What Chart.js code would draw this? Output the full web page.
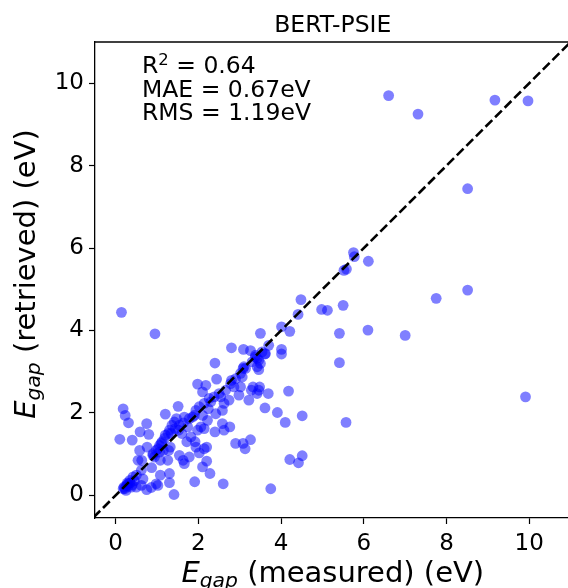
<!DOCTYPE html>
<html>
<head>
<meta charset="utf-8">
<script src="https://cdn.jsdelivr.net/npm/chart.js@4.4.0/dist/chart.umd.min.js"></script>
<style>
    html, body { margin: 0; padding: 0; overflow: hidden; background: #fff; }
    #wrap { width: 576px; height: 588px; position: relative; }
</style>
</head>
<body>
<div id="wrap"><canvas id="chart"></canvas></div>
<script>
// Measured vs retrieved band gaps (eV)
const measured = [
    6.6, 7.31, 9.17, 9.97, 8.51, 5.75, 5.77, 6.11, 5.58, 5.52, 5.5, 5.12, 4.98, 5.41, 6.1, 7.0, 7.75, 8.51, 5.41, 5.57, 9.91,
    4.41, 4.48, 4.01, 4.21, 4.01, 4.01, 4.51, 4.21, 4.42, 4.51, 4.1, 4.18, 3.91, 3.61, 3.69, 3.75, 3.5, 3.7, 3.62, 3.5,
    3.42, 3.42, 3.38, 3.48, 3.42, 3.32, 3.28, 3.22, 3.26, 3.09, 3.08, 3.06, 3.02, 3.26, 3.13, 3.08, 2.9, 2.8, 2.8, 2.76,
    2.62, 2.58, 2.4, 2.42, 2.58, 2.62, 2.54, 2.74, 2.44, 2.4, 2.18, 1.98, 2.1, 2.6, 1.91, 1.41, 2.28, 2.1, 2.2, 2.02,
    1.94, 1.92, 2.14, 2.2, 1.98, 2.06, 2.14, 2.22, 1.86, 2.02, 2.1, 2.24, 2.3, 3.46, 3.46, 3.1, 2.86, 3.46, 2.98,
    0.9, 1.02, 1.1, 1.18, 1.34, 1.44, 1.54, 1.64, 1.78, 1.9, 1.94, 2.14, 2.26, 2.38, 2.5, 2.66, 2.78, 2.9, 3.02, 3.14,
    3.3, 3.38, 3.54, 3.61,
    0.14, 0.95, 0.18, 0.23, 0.31, 0.1, 0.4, 0.59, 0.75, 0.8, 0.58, 0.76, 0.54, 0.63, 0.87, 1.08, 0.98, 0.75, 0.86, 1.02,
    1.3, 1.3, 0.22, 0.3, 0.38, 0.5, 0.62, 0.66, 0.42, 0.34, 0.26, 0.18, 0.5, 0.62, 1.2, 1.51, 1.42, 1.36, 1.47, 1.3,
    1.2, 1.27, 1.12, 1.06, 0.98, 0.9, 0.94, 1.06, 1.15, 1.28, 1.32, 1.26, 1.08, 1.52, 1.6, 1.66, 1.74, 1.72, 1.82, 1.54,
    1.63, 1.66, 1.78,
    0.2, 0.28, 0.35, 0.25, 0.45, 0.4, 0.3
];
const retrieved = [
    9.7, 9.25, 9.59, 9.57, 7.44, 5.89, 5.79, 5.68, 5.49, 5.46, 4.61, 4.49, 4.51, 3.93, 4.01, 3.88, 4.78, 4.98, 3.22, 1.77, 2.39,
    4.39, 4.75, 4.09, 3.98, 3.54, 3.43, 1.93, 0.87, 0.79, 0.96, 1.77, 2.53, 2.01, 2.12, 2.47, 0.16, 3.93, 3.64, 3.44, 3.2,
    3.32, 3.12, 3.36, 2.63, 2.47, 2.63, 2.55, 2.31, 3.51, 3.54, 3.08, 2.87, 2.63, 1.35, 1.13, 1.26, 1.26, 3.58, 2.79, 1.66,
    1.58, 1.74, 1.54, 1.98, 2.06, 2.23, 2.39, 2.31, 2.82, 3.21, 2.67, 2.7, 2.51, 0.28, 0.33, 0.02, 0.53, 0.69, 0.83, 1.03,
    1.17, 1.3, 1.13, 1.17, 1.58, 1.66, 1.62, 1.82, 1.9, 2.15, 1.94, 2.1, 2.27, 3.05, 3.28, 3.12, 2.63, 2.55, 2.43,
    1.01, 1.13, 1.26, 1.38, 1.5, 1.62, 1.7, 1.76, 1.86, 1.94, 2.06, 2.23, 2.35, 2.39, 2.47, 2.55, 2.71, 2.83, 2.96, 3.08,
    3.24, 3.4, 3.48, 3.43,
    4.44, 3.92, 2.1, 1.94, 1.76, 1.36, 1.34, 1.54, 1.74, 1.48, 1.09, 1.17, 0.85, 0.85, 0.67, 0.49, 0.28, 0.14, 0.19, 0.24,
    0.53, 0.31, 0.16, 0.28, 0.2, 0.2, 0.24, 0.4, 0.45, 0.36, 0.24, 0.16, 0.49, 0.61, 1.97, 2.16, 1.78, 1.7, 1.86, 1.58,
    1.46, 1.5, 1.3, 1.21, 1.09, 0.97, 0.93, 1.05, 1.09, 1.09, 1.17, 0.85, 0.85, 1.58, 1.5, 1.9, 1.66, 1.3, 1.42, 0.97,
    0.85, 0.77, 0.93,
    0.2, 0.3, 0.3, 0.12, 0.35, 0.25, 0.22
];
const tickValues = [0, 2, 4, 6, 8, 10];
const axisMin = -0.5;
const axisMax = 11;
const yMin = -0.55;
const identity = [-1, 12];
const title = 'BERT-PSIE';
const statLines = [
    [{ t: 'R' }, { t: '2', sup: true }, { t: ' = 0.64' }],
    [{ t: 'MAE = 0.67eV' }],
    [{ t: 'RMS = 1.19eV' }]
];
const xLabel = [{ t: 'E', italic: true }, { t: 'gap', italic: true, sub: true }, { t: ' (measured) (eV)' }];
const yLabel = [{ t: 'E', italic: true }, { t: 'gap', italic: true, sub: true }, { t: ' (retrieved) (eV)' }];

const FONT = '"DejaVu Sans", sans-serif';

function setFont(ctx, p, size) {
    const s = (p.sub || p.sup) ? size * 0.7 : size;
    ctx.font = (p.italic ? 'italic ' : '') + s + 'px ' + FONT;
}

function runWidth(ctx, parts, size) {
    let w = 0;
    parts.forEach(p => { setFont(ctx, p, size); w += ctx.measureText(p.t).width; });
    return w;
}

function drawRun(ctx, parts, x, y, size) {
    parts.forEach(p => {
        setFont(ctx, p, size);
        const dy = p.sub ? size * 0.16 : (p.sup ? -size * 0.36 : 0);
        ctx.fillText(p.t, x, y + dy);
        x += ctx.measureText(p.t).width;
    });
}

// Frame top line, title, stats box and axis titles with subscripts
const decorations = {
    id: 'decorations',
    afterDraw(chart) {
        const { ctx, chartArea: a } = chart;
        const cx = (a.left + a.right) / 2;
        const cy = (a.top + a.bottom) / 2;
        ctx.save();
        ctx.strokeStyle = '#000';
        ctx.lineWidth = 1.3;
        ctx.beginPath();
        ctx.moveTo(a.left, a.top);
        ctx.lineTo(a.right, a.top);
        ctx.stroke();

        ctx.fillStyle = '#000';
        ctx.textBaseline = 'alphabetic';
        ctx.textAlign = 'left';

        ctx.font = '23.5px ' + FONT;
        const tw = ctx.measureText(title).width;
        ctx.fillText(title, cx - tw / 2, 32);

        statLines.forEach((line, i) => drawRun(ctx, line, 142, 73 + i * 23.5, 23.5));

        const xs = 29;
        drawRun(ctx, xLabel, cx - runWidth(ctx, xLabel, xs) / 2, 582, xs);

        ctx.translate(35, cy - 6);
        ctx.rotate(-Math.PI / 2);
        drawRun(ctx, yLabel, -runWidth(ctx, yLabel, xs) / 2, 0, xs);
        ctx.restore();
    }
};

const axisStyle = {
    type: 'linear',
    afterBuildTicks: s => { s.ticks = tickValues.map(v => ({ value: v })); },
    grid: { drawOnChartArea: false, drawTicks: true, tickLength: 6, tickColor: '#000', tickWidth: 1.2 },
    border: { color: '#000', width: 1.3 },
    ticks: { color: '#000', font: { family: 'DejaVu Sans', size: 23 } }
};

new Chart(document.getElementById('chart'), {
    type: 'scatter',
    data: {
        datasets: [
            {
                data: identity.map(v => ({ x: v, y: v })),
                showLine: true,
                borderColor: '#000',
                borderWidth: 2.6,
                borderDash: [9.5, 4],
                pointRadius: 0
            },
            {
                data: measured.map((v, i) => ({ x: v, y: retrieved[i] })),
                backgroundColor: 'rgba(0, 0, 255, 0.5)',
                borderWidth: 0,
                pointRadius: 5.4,
                pointHoverRadius: 5.4
            }
        ]
    },
    options: {
        responsive: true,
        maintainAspectRatio: false,
        animation: false,
        layout: { padding: { top: 42, right: 2, left: 0, bottom: 0 } },
        plugins: { legend: { display: false }, tooltip: { enabled: false } },
        scales: {
            x: {
                ...axisStyle,
                min: axisMin,
                max: axisMax,
                afterFit: s => { s.height = 70; },
                ticks: { ...axisStyle.ticks, padding: 6, maxRotation: 0 }
            },
            y: {
                ...axisStyle,
                min: yMin,
                max: axisMax,
                afterFit: s => { s.width = 95; },
                ticks: { ...axisStyle.ticks, padding: 5 }
            }
        }
    },
    plugins: [decorations]
});
</script>
</body>
</html>
